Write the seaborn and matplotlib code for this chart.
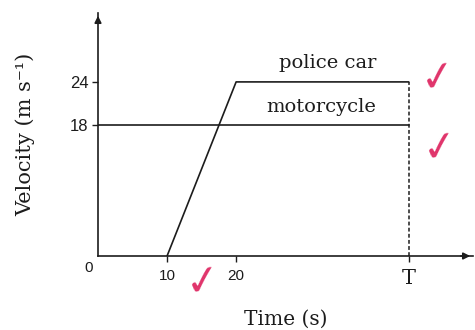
import matplotlib
matplotlib.use("Agg")
import matplotlib.pyplot as plt
import seaborn as sns

# data (T drawn at roughly t = 45 s)
police_t = [10, 20, 45]
police_v = [0, 24, 24]
moto_t = [0, 45]
moto_v = [18, 18]
t_end = 45
xticks = [10, 20, 45]
xtick_labels = ["10", "20", "T"]
yticks = [18, 24]
ytick_labels = ["18", "24"]

sns.set_theme(style="white")
plt.rcParams["font.family"] = ["DejaVu Serif", "DejaVu Sans"]

ink = "#1c1c1c"
fig = plt.figure(figsize=(4.75, 3.3), dpi=100)
ax = fig.add_axes([98 / 475, 74 / 330, 375 / 475, 243 / 330])

sns.lineplot(x=police_t, y=police_v, ax=ax, color=ink, lw=1.2)
sns.lineplot(x=moto_t, y=moto_v, ax=ax, color=ink, lw=1.2)
ax.plot([t_end, t_end], [0, max(police_v)], color=ink, lw=1.1, ls=(0, (2.5, 1.5)))

ax.set_xlim(0, 54.3)
ax.set_ylim(0, 33.5)

# axes with arrow heads
for s in ["top", "right"]:
    ax.spines[s].set_visible(False)
for s in ["left", "bottom"]:
    ax.spines[s].set_color(ink)
    ax.spines[s].set_linewidth(1.2)
ax.annotate("", xy=(1.0, 0), xytext=(0.96, 0), xycoords="axes fraction",
            arrowprops=dict(arrowstyle="-|>", lw=1.2, color=ink, mutation_scale=10))
ax.annotate("", xy=(0, 1.0), xytext=(0, 0.95), xycoords="axes fraction",
            arrowprops=dict(arrowstyle="-|>", lw=1.2, color=ink, mutation_scale=10))

ax.set_xticks(xticks)
ax.set_xticklabels(xtick_labels)
ax.set_yticks(yticks)
ax.set_yticklabels(ytick_labels)
ax.tick_params(axis="both", direction="out", length=4, width=1, color=ink,
               labelcolor=ink, bottom=True, left=True, pad=3)
ax.tick_params(axis="x", pad=5)
for lab in ax.get_yticklabels():
    lab.set_family("Liberation Sans")
    lab.set_fontsize(12)
for lab in ax.get_xticklabels():
    if lab.get_text() == "T":
        lab.set_fontsize(15)
    else:
        lab.set_family("Liberation Sans")
        lab.set_fontsize(11)

ax.annotate("0", xy=(0, 0), xytext=(-7, -9), textcoords="offset points",
            ha="center", va="center", fontsize=11, family="Liberation Sans", color=ink)

ax.set_xlabel("Time (s)", fontsize=14.5, color=ink, labelpad=16)
ax.set_ylabel("Velocity (m s⁻¹)", fontsize=15, color=ink, labelpad=25)

ax.text(33.2, 24 + 1.3, "police car", fontsize=14, color=ink, ha="center", va="bottom")
ax.text(32.3, 18 + 1.3, "motorcycle", fontsize=14, color=ink, ha="center", va="bottom")

# marker's ticks
pink = "#e0336a"
for x, y, r in [(438, 78, 8), (440, 148, 8), (203, 282, 8)]:
    fig.text(x / 475, 1 - y / 330, "✓", fontsize=30, color=pink, rotation=r,
             family="DejaVu Sans", ha="center", va="center")

fig.savefig("out.png", dpi=100)
